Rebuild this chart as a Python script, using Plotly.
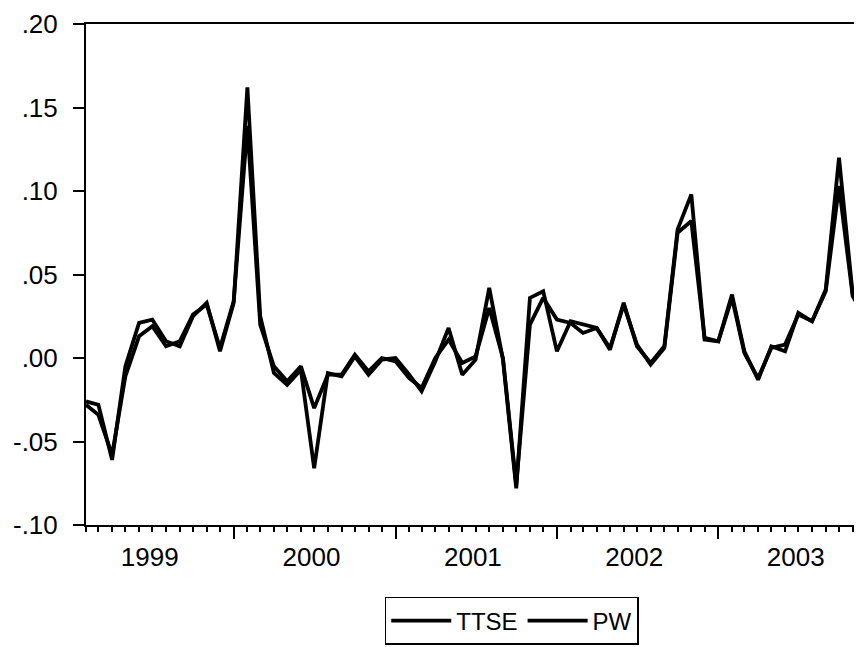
import plotly.graph_objects as go
import pandas as pd

# Monthly observations, 1999M02 .. 2003M12
dates = pd.date_range("1999-02-01", "2003-12-01", freq="MS")

ttse = [-0.026, -0.028, -0.061, -0.005, 0.021, 0.023, 0.010, 0.007, 0.025, 0.033,
        0.004, 0.033, 0.162, 0.025, -0.009, -0.016, -0.007, -0.066, -0.009, -0.011,
        0.001, -0.010, -0.001, 0.000, -0.010, -0.020, -0.002, 0.018, -0.010, -0.001,
        0.042, -0.001, -0.078, 0.036, 0.040, 0.004, 0.022, 0.020, 0.018, 0.005,
        0.033, 0.007, -0.003, 0.007, 0.077, 0.098, 0.011, 0.010, 0.038, 0.004,
        -0.013, 0.007, 0.004, 0.027, 0.022, 0.041, 0.120, 0.038, 0.024]

pw = [-0.028, -0.034, -0.058, -0.011, 0.013, 0.019, 0.007, 0.010, 0.026, 0.032,
      0.006, 0.034, 0.139, 0.020, -0.005, -0.014, -0.005, -0.030, -0.010, -0.010,
      0.002, -0.008, 0.000, -0.002, -0.012, -0.018, 0.000, 0.011, -0.003, 0.001,
      0.030, 0.000, -0.076, 0.020, 0.036, 0.023, 0.021, 0.015, 0.018, 0.006,
      0.032, 0.008, -0.004, 0.006, 0.075, 0.082, 0.012, 0.010, 0.036, 0.003,
      -0.012, 0.006, 0.008, 0.026, 0.022, 0.040, 0.103, 0.037, 0.023]

y_ticks = [-0.10, -0.05, 0.00, 0.05, 0.10, 0.15, 0.20]
y_tick_text = ["-.10", "-.05", ".00", ".05", ".10", ".15", ".20"]
years = ["1999", "2000", "2001", "2002", "2003"]

FONT = "Liberation Sans, Arial, Helvetica, sans-serif"

fig = go.Figure()
fig.add_trace(go.Scatter(x=dates, y=ttse, mode="lines", name="TTSE",
                         line=dict(color="black", width=3.8)))
fig.add_trace(go.Scatter(x=dates, y=pw, mode="lines", name="PW",
                         line=dict(color="black", width=3.8)))
# carrier for the year-label axis (draws nothing)
fig.add_trace(go.Scatter(x=dates, y=ttse, mode="none", xaxis="x2", yaxis="y",
                         showlegend=False, hoverinfo="skip"))

x_range = ["1999-02-01", "2003-11-22"]
year_bounds = [f"{y}-01-01" for y in years[1:]] + ["2004-01-01"]
year_mid = [f"{y}-06-25" for y in years]

fig.update_layout(
    width=854, height=639,
    margin=dict(l=78, r=0, t=16, b=122),
    plot_bgcolor="white", paper_bgcolor="white",
    font=dict(family=FONT, color="black", size=24),
    showlegend=True,
    legend=dict(orientation="h", x=0.385, xanchor="left", y=-0.1437, yanchor="top",
                bordercolor="black", borderwidth=1.5, font=dict(size=24),
                itemwidth=60, bgcolor="white"),
    xaxis=dict(type="date", range=x_range, showgrid=False, zeroline=False,
               showline=True, linecolor="black", linewidth=2, mirror=True,
               tickmode="array", tickvals=year_bounds, ticktext=["" for _ in year_bounds],
               ticks="outside", ticklen=12, tickwidth=1.5, tickcolor="black",
               minor=dict(dtick="M1", tick0="1999-01-01", ticks="outside", ticklen=5,
                          tickwidth=1.5, tickcolor="black", showgrid=False)),
    xaxis2=dict(type="date", overlaying="x", range=x_range, side="bottom",
                anchor="y", showgrid=False, zeroline=False, showline=False,
                tickmode="array", tickvals=year_mid, ticktext=years, ticks="",
                ticklabelstandoff=14, tickfont=dict(size=26)),
    yaxis=dict(range=[-0.10, 0.20], showgrid=False, zeroline=False,
               showline=True, linecolor="black", linewidth=2, mirror=False,
               tickmode="array", tickvals=y_ticks, ticktext=y_tick_text,
               ticks="outside", ticklen=11, tickwidth=1.5, tickcolor="black",
               ticklabelstandoff=10, tickfont=dict(size=26)),
)

fig.write_html("out.html")
